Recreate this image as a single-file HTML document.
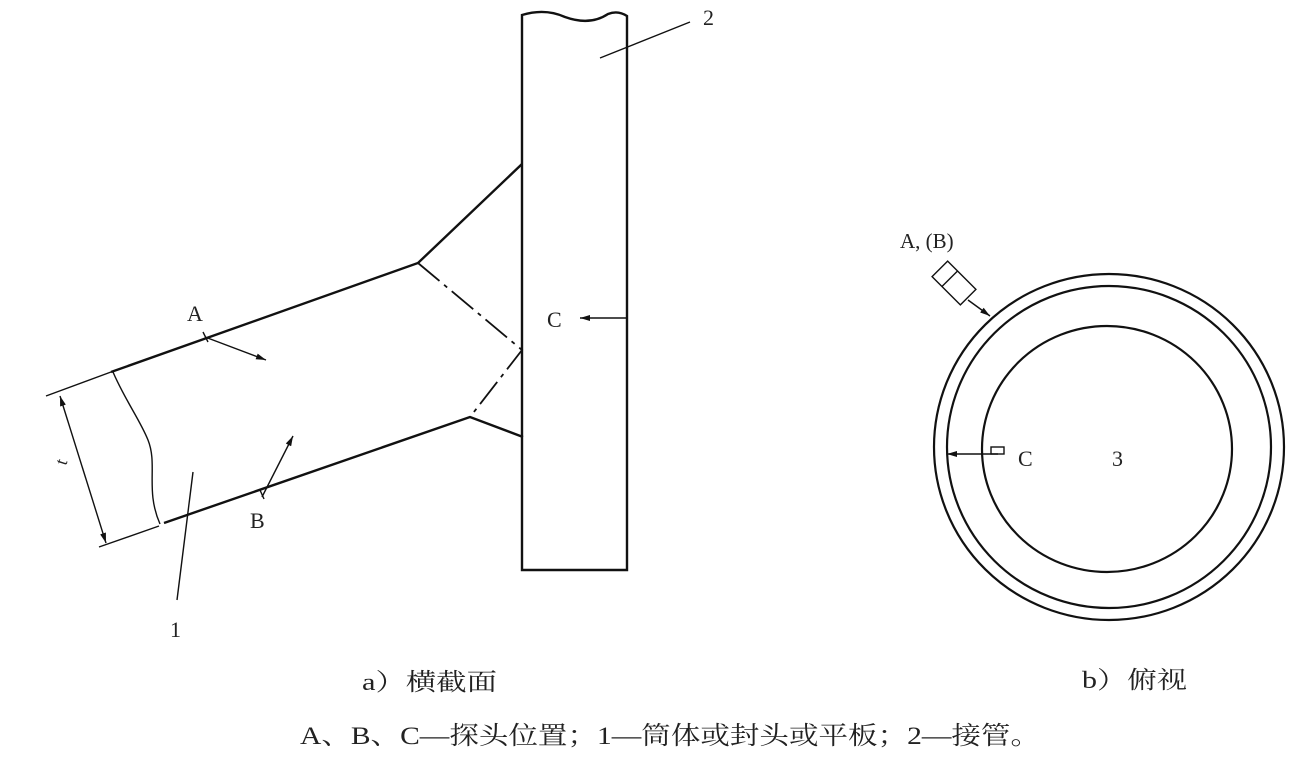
<!DOCTYPE html>
<html><head><meta charset="utf-8"><style>
html,body{margin:0;padding:0;background:#fff;}
svg{display:block;}
text{font-family:"Liberation Serif","Noto Serif CJK SC",serif;fill:#222;}
</style></head><body>
<svg width="1299" height="765" viewBox="0 0 1299 765" xmlns="http://www.w3.org/2000/svg">
<defs>
<marker id="ar" viewBox="0 0 10 6" refX="10" refY="3" markerWidth="13" markerHeight="6" markerUnits="userSpaceOnUse" orient="auto-start-reverse">
<path d="M0,0 L10,3 L0,6 z" fill="#111"/></marker>
</defs>
<g stroke="#111" fill="none" stroke-width="2.4">
<path d="M522,570 L522,15 Q545,8 565,17 Q590,26 608,14 Q618,10 627,16 L627,570 Z"/>
<path d="M111,372 L418,263 L522,164"/>
<path d="M164,523 L470,417 L523,437"/>
<path d="M418,263 L522,350 L470,417" stroke-dasharray="28,6,4,6" stroke-width="1.8"/>
</g>
<g stroke="#111" fill="none" stroke-width="1.4">
<path d="M113,372 C125,400 140,420 148,440 C158,465 145,490 160,524"/>
<line x1="46" y1="396" x2="111" y2="372"/>
<line x1="99" y1="547" x2="159" y2="526"/>
<line x1="60" y1="396" x2="106" y2="543" marker-start="url(#ar)" marker-end="url(#ar)"/>
<line x1="205" y1="337" x2="266" y2="360" marker-end="url(#ar)"/>
<line x1="203" y1="332" x2="208" y2="342"/>
<line x1="262" y1="497" x2="293" y2="436" marker-end="url(#ar)"/>
<line x1="260" y1="490" x2="264" y2="499"/>
<line x1="627" y1="318" x2="580" y2="318" marker-end="url(#ar)"/>
<line x1="193" y1="472" x2="177" y2="600"/>
<line x1="600" y1="58" x2="690" y2="22"/>
</g>
<text x="187" y="321" font-size="22">A</text>
<text x="250" y="528" font-size="22">B</text>
<text x="547" y="327" font-size="22">C</text>
<text x="170" y="637" font-size="22">1</text>
<text x="703" y="25" font-size="22">2</text>
<text x="0" y="0" font-size="18" transform="translate(66,466) rotate(-72)">t</text>
<g stroke="#111" fill="none" stroke-width="2.2">
<ellipse cx="1109" cy="447" rx="175" ry="173"/>
<ellipse cx="1109" cy="447" rx="162" ry="161"/>
<ellipse cx="1107" cy="449" rx="125" ry="123"/>
</g>
<g stroke="#111" fill="none" stroke-width="1.4">
<g transform="translate(954,283) rotate(45)">
<rect x="-20" y="-11" width="40" height="22"/>
<line x1="-6" y1="-11" x2="-6" y2="11"/>
</g>
<line x1="968" y1="300" x2="990" y2="316" marker-end="url(#ar)"/>
<rect x="991" y="447" width="13" height="7"/>
<line x1="998" y1="454" x2="947" y2="454" marker-end="url(#ar)"/>
</g>
<text x="900" y="248" font-size="21">A, (B)</text>
<text x="1018" y="466" font-size="22">C</text>
<text x="1112" y="466" font-size="22">3</text>
<text x="362" y="690" font-size="24" textLength="135" lengthAdjust="spacingAndGlyphs">a）横截面</text>
<text x="1082" y="688" font-size="24" textLength="105" lengthAdjust="spacingAndGlyphs">b）俯视</text>
<text x="300" y="744" font-size="25" textLength="740" lengthAdjust="spacingAndGlyphs">A、B、C—探头位置；1—筒体或封头或平板；2—接管。</text>
</svg>
</body></html>
